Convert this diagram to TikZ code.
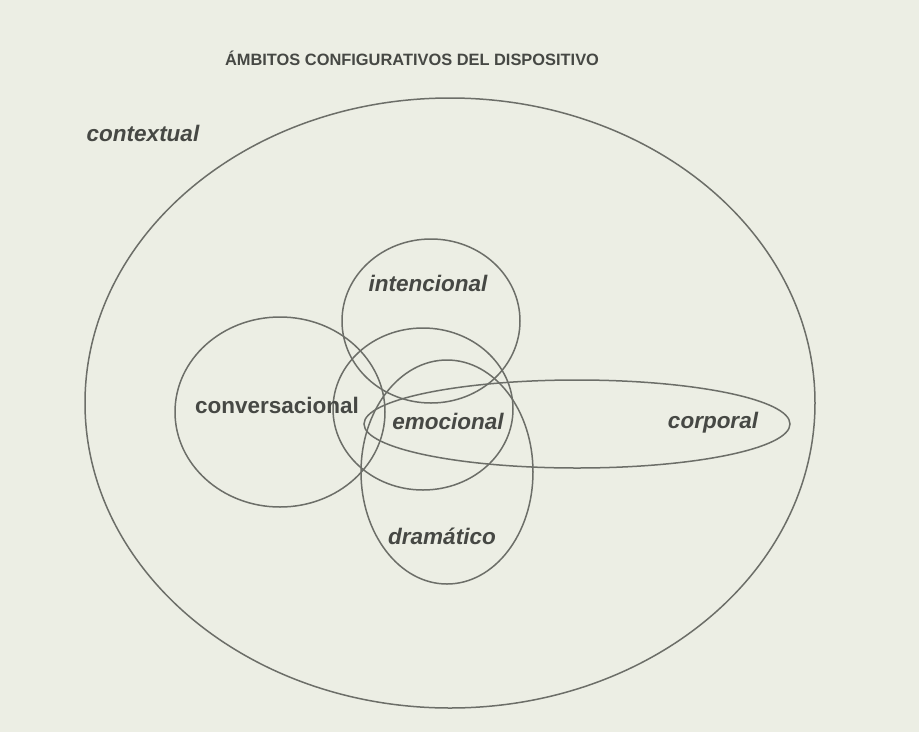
\documentclass[tikz,border=0pt]{standalone}
\usepackage{fontspec}
\setmainfont{Liberation Sans}
\begin{document}
\begin{tikzpicture}[x=1pt,y=-1pt,
  ring/.style={draw=linegray,line width=1.5pt},
  lbl/.style={text=textgray,font=\fontsize{22.5}{26}\selectfont\bfseries\itshape,inner sep=0pt},
  ttl/.style={text=textgray,font=\fontsize{16.4}{19}\selectfont\bfseries,inner sep=0pt}]
\definecolor{paper}{RGB}{236,238,228}
\definecolor{linegray}{RGB}{108,110,104}
\definecolor{textgray}{RGB}{70,72,68}
\fill[paper] (0,0) rectangle (919,732);
\useasboundingbox (0,0) rectangle (919,732);
% shapes
\draw[ring] (450,403) ellipse [x radius=365, y radius=305];
\draw[ring] (431,321) ellipse [x radius=89, y radius=82];
\draw[ring] (280,412) ellipse [x radius=105, y radius=95];
\draw[ring] (423,409) ellipse [x radius=90, y radius=81];
\draw[ring] (447,472) ellipse [x radius=86, y radius=112];
\draw[ring] (577,424) ellipse [x radius=213, y radius=44];
% texts
\node[ttl] (title) at (412,58) {ÁMBITOS CONFIGURATIVOS DEL DISPOSITIVO};
\node[lbl] (contextual) at (143,133) {contextual};
\node[lbl] (intencional) at (428,283) {intencional};
\node[lbl,font=\fontsize{22.5}{26}\selectfont\bfseries] (conversacional) at (277,405) {conversacional};
\node[lbl] (emocional) at (448,421) {emocional};
\node[lbl] (dramatico) at (442,536) {dramático};
\node[lbl] (corporal) at (713,423) {corporal};
\end{tikzpicture}
\end{document}
